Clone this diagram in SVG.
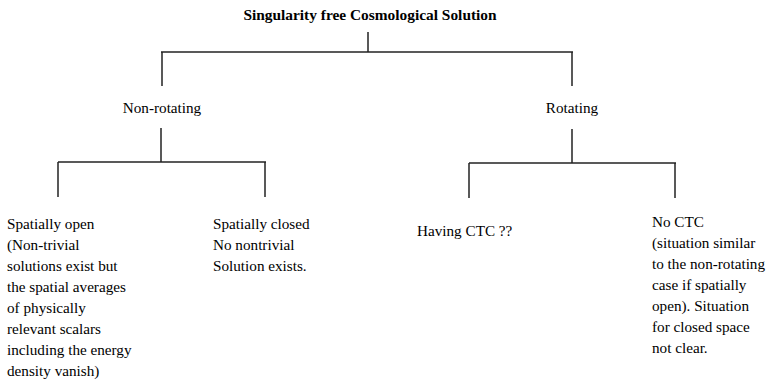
<svg xmlns="http://www.w3.org/2000/svg" width="772" height="388" viewBox="0 0 772 388">
<style>
text{font-family:"Liberation Serif","Times New Roman",serif;font-size:15.2px;fill:#000}
.t{font-weight:bold}
.c{text-anchor:middle}
line{stroke:#222;stroke-width:1.5;fill:none}
</style>
<rect width="772" height="388" fill="#fff"/>
<g id="connectors">
<line x1="368" y1="32" x2="368" y2="52"/>
<line x1="161" y1="52" x2="573" y2="52"/>
<line x1="162" y1="52" x2="162" y2="86"/>
<line x1="572" y1="52" x2="572" y2="86"/>
<line x1="161" y1="128" x2="161" y2="162"/>
<line x1="58" y1="162" x2="266" y2="162"/>
<line x1="58" y1="162" x2="58" y2="197"/>
<line x1="265" y1="162" x2="265" y2="197"/>
<line x1="572" y1="129" x2="572" y2="163"/>
<line x1="469" y1="163" x2="676" y2="163"/>
<line x1="469" y1="163" x2="469" y2="198"/>
<line x1="675" y1="163" x2="675" y2="198"/>
</g>
<g id="root"><text class="t c" x="370" y="20" style="font-size:15.4px">Singularity free Cosmological Solution</text></g>
<g id="nonrotating"><text class="c" x="162" y="113">Non-rotating</text></g>
<g id="rotating"><text class="c" x="572" y="113">Rotating</text></g>
<g id="open"><text x="7" y="229">
<tspan x="7">Spatially open</tspan>
<tspan x="7" dy="21">(Non-trivial</tspan>
<tspan x="7" dy="21">solutions exist but</tspan>
<tspan x="7" dy="21">the spatial averages</tspan>
<tspan x="7" dy="21">of physically</tspan>
<tspan x="7" dy="21">relevant scalars</tspan>
<tspan x="7" dy="21">including the energy</tspan>
<tspan x="7" dy="21">density vanish)</tspan>
</text></g>
<g id="closed"><text x="213" y="229">
<tspan x="213">Spatially closed</tspan>
<tspan x="213" dy="21">No nontrivial</tspan>
<tspan x="213" dy="21">Solution exists.</tspan>
</text></g>
<g id="ctc"><text x="417" y="236">Having CTC ??</text></g>
<g id="noctc"><text x="652" y="227">
<tspan x="652">No CTC</tspan>
<tspan x="652" dy="21">(situation similar</tspan>
<tspan x="652" dy="21">to the non-rotating</tspan>
<tspan x="652" dy="21">case if spatially</tspan>
<tspan x="652" dy="21">open). Situation</tspan>
<tspan x="652" dy="21">for closed space</tspan>
<tspan x="652" dy="21">not clear.</tspan>
</text></g>
</svg>
